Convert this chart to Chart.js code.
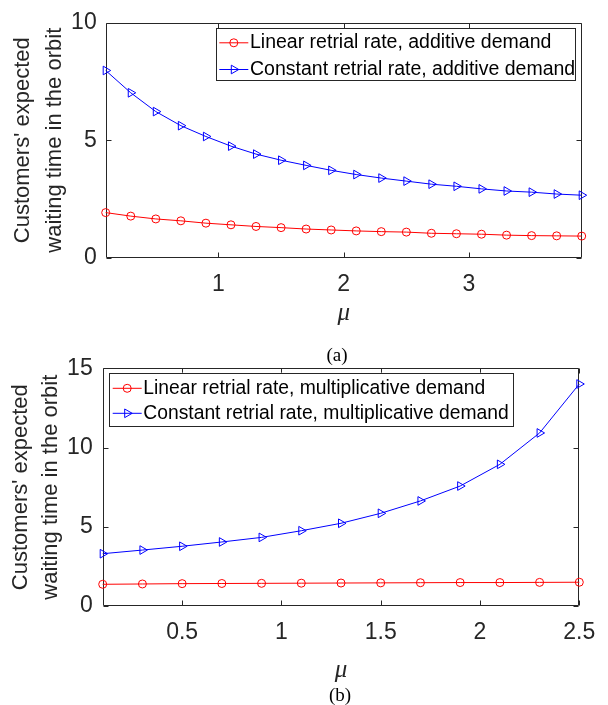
<!DOCTYPE html>
<html>
<head>
<meta charset="utf-8">
<script src="https://cdn.jsdelivr.net/npm/chart.js@4.4.1/dist/chart.umd.min.js"></script>
<style>
  html, body { margin: 0; padding: 0; background: #ffffff; }
  #wrap { position: relative; width: 608px; height: 705px; background: #ffffff; overflow: hidden; }
  .box { position: absolute; left: 0; width: 608px; }
  .cap { position: absolute; width: 60px; text-align: center; font-family: 'Liberation Serif', 'Times New Roman', serif; font-size: 19px; line-height: 20px; color: #000; }
</style>
</head>
<body>
<div id="wrap">
  <div class="box" style="top:0;height:340px"><canvas id="ca" width="608" height="340"></canvas></div>
  <div class="box" style="top:340px;height:365px"><canvas id="cb" width="608" height="365"></canvas></div>
  <div class="cap" style="left:307px;top:345px">(a)</div>
  <div class="cap" style="left:310px;top:685px">(b)</div>
</div>
<script>
// ---------------- data: panel (a) ----------------
const muA = [0.1, 0.3, 0.5, 0.7, 0.9, 1.1, 1.3, 1.5, 1.7, 1.9, 2.1, 2.3, 2.5, 2.7, 2.9, 3.1, 3.3, 3.5, 3.7, 3.9];
const linearAdditive = [1.92, 1.77, 1.65, 1.57, 1.47, 1.40, 1.33, 1.28, 1.22, 1.18, 1.14, 1.11, 1.09, 1.04, 1.02, 1.00, 0.96, 0.94, 0.93, 0.92];
const constantAdditive = [7.97, 7.02, 6.22, 5.62, 5.16, 4.75, 4.41, 4.15, 3.93, 3.72, 3.54, 3.39, 3.26, 3.13, 3.04, 2.93, 2.84, 2.79, 2.71, 2.66];
const xTicksA = [1, 2, 3];
const yTicksA = [0, 5, 10];
const labelsA = ['Linear retrial rate, additive demand', 'Constant retrial rate, additive demand'];

// ---------------- data: panel (b) ----------------
const muB = [0.1, 0.3, 0.5, 0.7, 0.9, 1.1, 1.3, 1.5, 1.7, 1.9, 2.1, 2.3, 2.5];
const linearMultiplicative = [1.37, 1.39, 1.41, 1.42, 1.43, 1.44, 1.45, 1.46, 1.47, 1.48, 1.48, 1.49, 1.50];
const constantMultiplicative = [3.30, 3.53, 3.77, 4.04, 4.33, 4.75, 5.22, 5.85, 6.63, 7.57, 8.94, 10.92, 14.01];
const xTicksB = [0.5, 1, 1.5, 2, 2.5];
const yTicksB = [0, 5, 10, 15];
const labelsB = ['Linear retrial rate, multiplicative demand', 'Constant retrial rate, multiplicative demand'];

const yTitle = ["Customers' expected", 'waiting time in the orbit'];
const xTitle = 'μ';

// ---------------- styling helpers ----------------
const AXIS = '#262626';
const SANS = "'Liberation Sans', Arial, sans-serif";

function toXY(xs, ys) { return xs.map((x, i) => ({ x: x, y: ys[i] })); }

function drawMarker(ctx, style, x, y, r, color) {
  ctx.save();
  ctx.strokeStyle = color;
  ctx.lineWidth = 1;
  ctx.beginPath();
  if (style === 'circle') {
    ctx.arc(x, y, r, 0, Math.PI * 2);
  } else {
    let a = Math.PI / 2;
    ctx.moveTo(x + Math.sin(a) * r, y - Math.cos(a) * r);
    a += 2 * Math.PI / 3;
    ctx.lineTo(x + Math.sin(a) * r, y - Math.cos(a) * r);
    a += 2 * Math.PI / 3;
    ctx.lineTo(x + Math.sin(a) * r, y - Math.cos(a) * r);
    ctx.closePath();
  }
  ctx.stroke();
  ctx.restore();
}

const framePlugin = {
  id: 'frame',
  beforeDatasetsDraw(chart, args, o) {
    const ctx = chart.ctx, a = chart.chartArea;
    const xs = chart.scales.x, ys = chart.scales.y;
    const L = Math.round(a.left) + 0.5, R = Math.round(a.right) - 0.5;
    const T = Math.round(a.top) + 0.5, B = Math.round(a.bottom) - 0.5;
    ctx.save();
    ctx.strokeStyle = o.color;
    ctx.lineWidth = 1;
    ctx.beginPath();
    ctx.rect(L, T, R - L, B - T);
    xs.ticks.forEach(t => {
      const p = Math.round(xs.getPixelForValue(t.value)) + 0.5;
      ctx.moveTo(p, B); ctx.lineTo(p, B - o.tick);
      ctx.moveTo(p, T); ctx.lineTo(p, T + o.tick);
    });
    ys.ticks.forEach(t => {
      const p = Math.round(ys.getPixelForValue(t.value)) + 0.5;
      ctx.moveTo(L, p); ctx.lineTo(L + o.tick, p);
      ctx.moveTo(R, p); ctx.lineTo(R - o.tick, p);
    });
    ctx.stroke();
    ctx.restore();
  },
  afterDraw(chart, args, o) {
    const lg = o.legend;
    if (!lg) return;
    const ctx = chart.ctx, a = chart.chartArea;
    const bx = lg.corner === 'ne' ? a.right - lg.inset - lg.w : a.left + lg.inset;
    const by = a.top + lg.insetTop;
    ctx.save();
    ctx.fillStyle = '#ffffff';
    ctx.fillRect(bx, by, lg.w, lg.h);
    ctx.strokeStyle = o.color;
    ctx.lineWidth = 1;
    ctx.strokeRect(Math.round(bx) + 0.5, Math.round(by) + 0.5, Math.round(lg.w) - 1, Math.round(lg.h) - 1);
    chart.data.datasets.forEach((ds, i) => {
      const y = by + lg.rows[i];
      ctx.strokeStyle = ds.borderColor;
      ctx.lineWidth = 1;
      ctx.beginPath();
      ctx.moveTo(bx + lg.lineX0, y);
      ctx.lineTo(bx + lg.lineX1, y);
      ctx.stroke();
      drawMarker(ctx, ds.markerKind, bx + (lg.lineX0 + lg.lineX1) / 2, y, ds.pointRadius, ds.borderColor);
      ctx.fillStyle = '#000000';
      ctx.font = lg.fontSize + 'px ' + SANS;
      ctx.textBaseline = 'middle';
      ctx.textAlign = 'left';
      ctx.fillText(ds.label, bx + lg.textX, y);
    });
    ctx.restore();
  }
};

function series(label, xs, ys, color, kind) {
  return {
    label: label,
    data: toXY(xs, ys),
    borderColor: color,
    backgroundColor: 'rgba(0,0,0,0)',
    borderWidth: 1,
    pointStyle: kind === 'circle' ? 'circle' : 'triangle',
    pointRotation: kind === 'circle' ? 0 : 90,
    pointRadius: kind === 'circle' ? 4 : 5,
    pointBorderWidth: 1,
    pointBackgroundColor: 'rgba(0,0,0,0)',
    markerKind: kind,
    tension: 0,
    clip: false
  };
}

function makeChart(id, p) {
  return new Chart(document.getElementById(id), {
    type: 'line',
    data: {
      datasets: [
        series(p.labels[0], p.xs, p.red, '#ff0000', 'circle'),
        series(p.labels[1], p.xs, p.blue, '#0000ff', 'triangle')
      ]
    },
    options: {
      responsive: false,
      animation: false,
      devicePixelRatio: 1,
      layout: { padding: p.padding },
      plugins: {
        legend: { display: false },
        tooltip: { enabled: false },
        frame: { color: AXIS, tick: 5, legend: p.legend }
      },
      scales: {
        x: {
          type: 'linear',
          min: p.xmin, max: p.xmax,
          grid: { display: false, drawTicks: false },
          border: { display: false },
          afterBuildTicks: s => { s.ticks = p.xTicks.map(v => ({ value: v })); },
          afterFit: s => { s.height = p.xAxisH; },
          ticks: {
            color: AXIS, padding: p.xTickPad, maxRotation: 0, autoSkip: false,
            font: { family: SANS, size: p.tickSize },
            callback: v => String(v)
          },
          title: {
            display: true, text: xTitle, color: AXIS,
            font: { family: "'Liberation Serif', 'Times New Roman', serif", style: 'italic', size: 25, lineHeight: 1.2 },
            padding: { top: 0, bottom: p.xTitlePad }
          }
        },
        y: {
          type: 'linear',
          min: p.ymin, max: p.ymax,
          grid: { display: false, drawTicks: false },
          border: { display: false },
          afterBuildTicks: s => { s.ticks = p.yTicks.map(v => ({ value: v })); },
          afterFit: s => { s.width = p.yAxisW; },
          ticks: {
            color: AXIS, padding: p.yTickPad, autoSkip: false,
            font: { family: SANS, size: p.tickSize },
            callback: v => String(v)
          },
          title: {
            display: true, text: yTitle, color: AXIS,
            font: { family: SANS, size: 22, lineHeight: p.yTitleLH },
            padding: { top: p.yTitlePad, bottom: 0 }
          }
        }
      }
    },
    plugins: [framePlugin]
  });
}

makeChart('ca', {
  xs: muA, red: linearAdditive, blue: constantAdditive, labels: labelsA,
  xTicks: xTicksA, yTicks: yTicksA, xmin: 0.1, xmax: 3.9, ymin: 0, ymax: 10,
  padding: { left: 0, top: 15, right: 26.3, bottom: 0 },
  xAxisH: 82.3, yAxisW: 105.7, tickSize: 23, xTickPad: 13, yTickPad: 9,
  xTitlePad: 12, yTitlePad: 7, yTitleLH: 1.45,
  legend: { corner: 'ne', inset: 5.7, insetTop: 5.7, w: 360, h: 53.3, rows: [14.3, 41], lineX0: 3.3, lineX1: 32.3, textX: 34, fontSize: 19.5 }
});

makeChart('cb', {
  xs: muB, red: linearMultiplicative, blue: constantMultiplicative, labels: labelsB,
  xTicks: xTicksB, yTicks: yTicksB, xmin: 0.1, xmax: 2.5, ymin: 0, ymax: 15,
  padding: { left: 0, top: 28.3, right: 28.7, bottom: 0 },
  xAxisH: 99, yAxisW: 102.7, tickSize: 23, xTickPad: 12.5, yTickPad: 10,
  xTitlePad: 19.5, yTitlePad: 6, yTitleLH: 1.36,
  legend: { corner: 'nw', inset: 6.3, insetTop: 4.4, w: 405, h: 54, rows: [15.6, 40.6], lineX0: 3.7, lineX1: 32.7, textX: 34.3, fontSize: 19.3 }
});
</script>
</body>
</html>
